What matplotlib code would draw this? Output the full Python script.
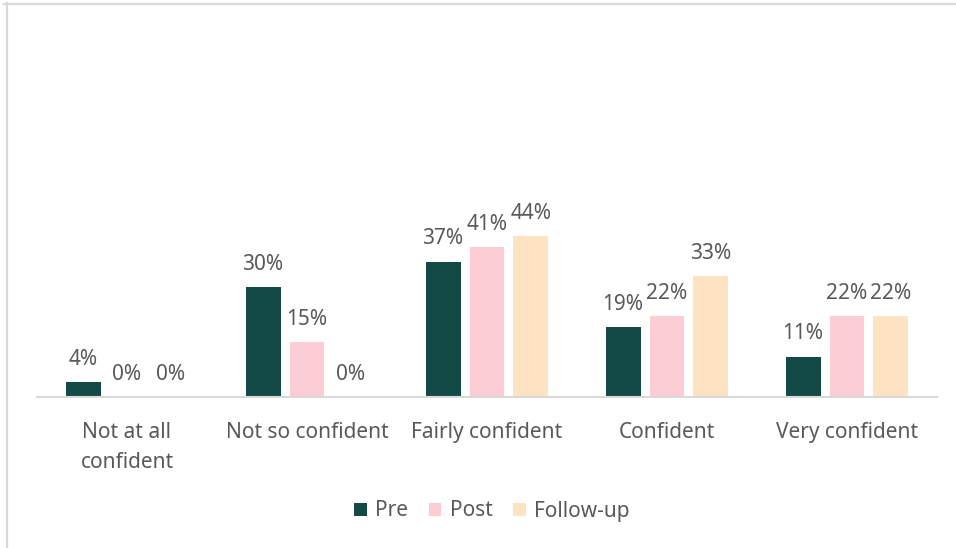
import matplotlib.pyplot as plt
import numpy as np
from matplotlib.lines import Line2D
from matplotlib.patches import Patch

# chart data
categories = ["Not at all\nconfident", "Not so confident", "Fairly confident",
              "Confident", "Very confident"]
series_names = ["Pre", "Post", "Follow-up"]
pre = [4, 30, 37, 19, 11]
post = [0, 15, 41, 22, 22]
follow_up = [0, 0, 44, 33, 22]

colors = ["#134a45", "#fdcdd6", "#fde3c2"]
text_color = "#595959"

plt.rcParams['font.family'] = ['Noto Sans', 'DejaVu Sans']

W, H = 956, 548
fig = plt.figure(figsize=(W / 100, H / 100), dpi=100)
ax = fig.add_axes([37 / W, (H - 397) / H, 900 / W, 366 / H])

x = np.arange(len(categories))
width = 0.194
step = 0.244
for i, (name, vals) in enumerate(zip(series_names, [pre, post, follow_up])):
    pos = x + (i - 1) * step
    ax.bar(pos, vals, width, color=colors[i], label=name)
    for px, v in zip(pos, vals):
        ax.annotate(f"{v}%", (px, v), xytext=(0, 12.5), textcoords="offset points",
                    ha="center", va="baseline", fontsize=15, color=text_color)

ax.set_xlim(-0.5, len(categories) - 0.5)
ax.set_ylim(0, 100)
ax.set_yticks([])
ax.set_xticks(x)
ax.set_xticklabels(categories, fontsize=15, color=text_color, linespacing=1.55)
ax.tick_params(axis="x", length=0, pad=18)
for s in ["top", "right", "left"]:
    ax.spines[s].set_visible(False)
ax.spines["bottom"].set_color("#d9d9d9")
ax.spines["bottom"].set_linewidth(1.5)
ax.patch.set_alpha(0)

handles = [Patch(facecolor=c, label=n) for c, n in zip(colors, series_names)]
leg = fig.legend(handles=handles, loc="center", bbox_to_anchor=(492 / W, 1 - 511 / H),
                 ncol=3, frameon=False, fontsize=15, handlelength=0.6,
                 handleheight=0.6, handletextpad=0.4, columnspacing=1.0)
for t in leg.get_texts():
    t.set_color(text_color)

# frame edge lines (top and left) of the cropped chart area
fig.add_artist(Line2D([4 / W, 1], [1 - 3.5 / H, 1 - 3.5 / H], color="#d9d9d9", lw=1.6))
fig.add_artist(Line2D([6.5 / W, 6.5 / W], [0, 1 - 3 / H], color="#d9d9d9", lw=1.6))

fig.savefig("out.png", dpi=100)
